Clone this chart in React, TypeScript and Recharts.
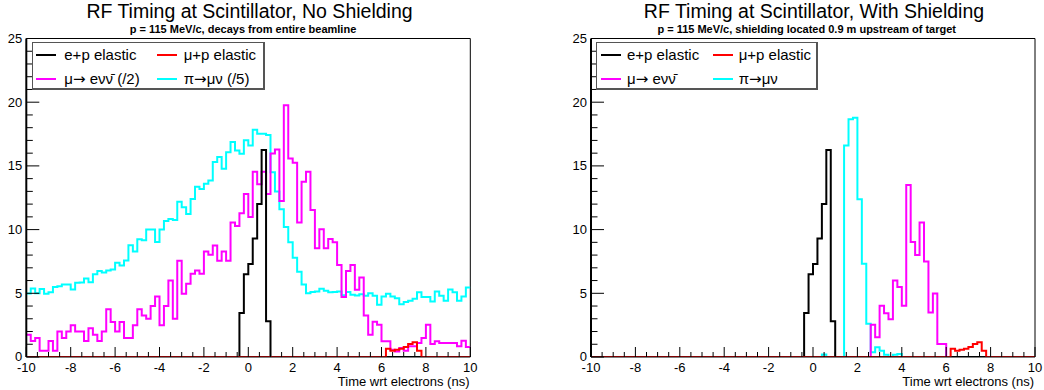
import { LineChart, Line, XAxis, YAxis, ReferenceLine, Legend } from 'recharts'

const FONT = '"Liberation Sans", Arial, Helvetica, sans-serif'
const ARROW_FONT = '"DejaVu Sans", sans-serif'

// binning: 100 bins of 0.2 ns between -10 and 10 ns
const X_MIN = -10
const X_MAX = 10
const BIN_WIDTH = 0.2
const BIN_COUNT = 100

const X_LABELS = [-10, -8, -6, -4, -2, 0, 2, 4, 6, 8, 10]
const X_MINOR_PER_MAJOR = 4
const Y_LABELS = [0, 5, 10, 15, 20, 25]
const Y_MINOR_PER_MAJOR = 5

// e+p elastic (same in both setups), bins 48..54
const EP_FIRST_BIN = 48
const EP_ELASTIC = [3.45, 6.5, 7.3, 9.3, 12.0, 16.25, 2.8]

// mu+p elastic (same in both setups), bins 81..88
const MUP_FIRST_BIN = 81
const MUP_ELASTIC = [0.65, 0.5, 0.57, 0.65, 0.78, 1.03, 1.15, 0.5]

// no shielding: decays from the entire beamline
const MU_DECAY_OPEN = [
  1.75, 1.25, 1.5, 0.5, 0.5, 1.25, 0.5, 2.0, 1.5, 2.0,
  2.5, 2.0, 2.0, 1.25, 2.25, 1.75, 1.25, 2.0, 3.75, 2.75,
  2.0, 2.75, 1.5, 1.5, 2.5, 3.75, 3.25, 3.0, 4.0, 4.75,
  2.5, 4.0, 6.0, 3.0, 7.55, 4.96, 5.74, 6.53, 6.79, 6.53,
  8.28, 8.02, 8.75, 7.55, 8.28, 7.55, 10.55, 10.29, 11.28, 12.79,
  10.99, 14.54, 13.55, 14.54, 12.79, 15.98, 16.29, 12.25, 19.77, 15.59,
  15.25, 10.55, 13.76, 14.54, 11.54, 8.54, 10.03, 8.54, 9.27, 9.0,
  7.23, 4.7, 6.76, 7.23, 5.27, 6.24, 3.26, 1.75, 2.77, 2.53,
  1.23, 1.23, 0.57, 0.44, 0.7, 0.5, 0.84, 0.84, 1.1, 1.49,
  2.53, 1.02, 1.23, 1.1, 1.1, 1.1, 1.1, 0.84, 1.28, 0.78,
]

const PI_DECAY_OPEN = [
  4.99, 5.38, 5.0, 5.33, 4.96, 5.09, 5.5, 5.56, 5.69, 5.69,
  5.3, 5.82, 5.85, 6.16, 5.87, 6.5, 6.76, 6.63, 6.79, 6.87,
  7.4, 7.18, 7.57, 8.77, 8.28, 9.24, 9.16, 10.0, 10.0, 9.03,
  10.0, 10.68, 10.84, 10.76, 12.19, 11.75, 11.23, 12.4, 13.37, 13.19,
  13.6, 13.86, 15.3, 15.69, 14.78, 16.08, 16.87, 16.21, 15.95, 17.02,
  16.6, 17.83, 17.52, 17.52, 17.42, 14.5, 13.0, 11.6, 10.2, 9.0,
  7.8, 6.7, 5.7, 5.0, 5.1, 5.14, 5.35, 5.2, 5.09, 5.1,
  5.14, 4.85, 5.1, 4.88, 4.83, 4.93, 4.8, 5.01, 4.8, 4.1,
  4.75, 4.96, 4.75, 4.62, 4.15, 4.31, 4.41, 4.57, 5.09, 4.7,
  4.7, 4.36, 5.14, 4.8, 4.41, 5.3, 5.09, 4.41, 4.75, 5.46,
]

// shielding 0.9 m upstream of target
const MU_DECAY_SHIELD_FIRST_BIN = 63
const MU_DECAY_SHIELD = [
  2.53, 1.56, 4.03, 3.43, 2.96, 6.0, 5.5, 4.03, 13.5, 9.03,
  8.0, 10.55, 7.5, 3.5, 4.98, 1.03, 1.03,
]

const PI_DECAY_SHIELD_FIRST_BIN = 52
const PI_DECAY_SHIELD = [
  0.2, 0, 0, 0, 0, 16.6, 18.67, 18.77, 12.38, 7.31,
  2.61, 0.37, 0.76, 0.5, 0.18, 0, 0.18, 0.23,
]

const LEGEND_OPEN = ['e+p elastic', 'μ+p elastic', 'μ→ eνν\u0304 (/2)', 'π→μν (/5)']
const LEGEND_SHIELD = ['e+p elastic', 'μ+p elastic', 'μ→ eνν\u0304', 'π→μν']
const SERIES_KEYS = ['ep', 'mup', 'mu', 'pi']
const SERIES_COLORS = ['#000000', '#ff0000', '#ff00ff', '#00ffff']

function fromSparse(first: number, values: number[]) {
  const out: number[] = new Array(BIN_COUNT).fill(0)
  values.forEach((v, k) => {
    out[first + k] = v
  })
  return out
}

// one point per bin low edge plus the upper edge, for stepAfter lines
function buildRows(ep: number[], mup: number[], mu: number[], pi: number[]) {
  const rows = []
  for (let i = 0; i <= BIN_COUNT; i++) {
    const b = Math.min(i, BIN_COUNT - 1)
    rows.push({
      x: Math.round((X_MIN + i * BIN_WIDTH) * 10) / 10,
      ep: ep[b],
      mup: mup[b],
      mu: mu[b],
      pi: pi[b],
    })
  }
  return rows
}

function subdivide(labels: number[], parts: number) {
  const out: number[] = []
  for (let i = 0; i < labels.length - 1; i++) {
    const step = (labels[i + 1] - labels[i]) / parts
    for (let k = 0; k < parts; k++) out.push(labels[i] + k * step)
  }
  out.push(labels[labels.length - 1])
  return out
}

const X_TICKS = subdivide(X_LABELS, X_MINOR_PER_MAJOR)
const Y_TICKS = subdivide(Y_LABELS, Y_MINOR_PER_MAJOR)

const epAll = fromSparse(EP_FIRST_BIN, EP_ELASTIC)
const mupAll = fromSparse(MUP_FIRST_BIN, MUP_ELASTIC)

const openRows = buildRows(epAll, mupAll, MU_DECAY_OPEN, PI_DECAY_OPEN)
const shieldRows = buildRows(
  epAll,
  mupAll,
  fromSparse(MU_DECAY_SHIELD_FIRST_BIN, MU_DECAY_SHIELD),
  fromSparse(PI_DECAY_SHIELD_FIRST_BIN, PI_DECAY_SHIELD),
)

function renderXTick(props: any) {
  const { x, y, payload } = props
  const v = payload.value
  const major = X_LABELS.includes(v)
  return (
    <g key={`xt-${v}`}>
      <line x1={x} x2={x} y1={y} y2={y - (major ? 10 : 5)} stroke="#000" strokeWidth={1} />
      {major && (
        <text x={x} y={y + 14.5} textAnchor="middle" fontSize={13} fontFamily={FONT} fill="#000">
          {v}
        </text>
      )}
    </g>
  )
}

function renderYTick(props: any) {
  const { x, y, payload } = props
  const v = payload.value
  const major = Y_LABELS.includes(v)
  return (
    <g key={`yt-${v}`}>
      <line x1={x} x2={x + (major ? 13 : 6.5)} y1={y} y2={y} stroke="#000" strokeWidth={1} />
      {major && (
        <text x={x - 4} y={y + 4.3} textAnchor="end" fontSize={13} fontFamily={FONT} fill="#000">
          {v}
        </text>
      )}
    </g>
  )
}

// arrows are drawn with a font whose arrow glyph is full width
function withArrows(label: string) {
  const parts = label.split('→')
  return parts.map((part, k) => (
    <span key={k}>
      {k > 0 && <span style={{ fontFamily: ARROW_FONT }}>→</span>}
      {part}
    </span>
  ))
}

interface LegendGeom {
  left: number
  width: number
  lineX: [number, number]
  textX: [number, number]
  lineLen: number
}

function LegendBox({ labels, geom }: { labels: string[]; geom: LegendGeom }) {
  return (
    <div
      style={{
        position: 'relative',
        width: geom.width,
        height: 48,
        boxSizing: 'border-box',
        background: '#fff',
        borderTop: '1px solid #555',
        borderLeft: '1px solid #555',
        borderRight: '2px solid #555',
        borderBottom: '2px solid #555',
        fontFamily: FONT,
        fontSize: 15,
        color: '#000',
      }}
    >
      {labels.map((label, i) => {
        const col = i % 2
        const row = Math.floor(i / 2)
        return (
          <div key={label}>
            <div
              style={{
                position: 'absolute',
                left: geom.lineX[col],
                top: row * 24 + 11,
                width: geom.lineLen,
                height: 2,
                background: SERIES_COLORS[i],
              }}
            />
            <div
              style={{
                position: 'absolute',
                left: geom.textX[col],
                top: row * 24,
                height: 24,
                lineHeight: '24px',
                whiteSpace: 'nowrap',
              }}
            >
              {withArrows(label)}
            </div>
          </div>
        )
      })}
    </div>
  )
}

interface PanelProps {
  left: number
  marginLeft: number
  marginRight: number
  title: string
  titleX: number
  subtitle: string
  subtitleX: number
  axisTitleX: number
  rows: any[]
  legend: string[]
  legendGeom: LegendGeom
}

function Panel(p: PanelProps) {
  return (
    <div style={{ position: 'absolute', left: p.left, top: 0, width: 522, height: 390 }}>
      <LineChart
        width={522}
        height={390}
        data={p.rows}
        margin={{ top: 38.5, right: p.marginRight, bottom: 0, left: p.marginLeft }}
      >
        <XAxis
          dataKey="x"
          type="number"
          domain={[X_MIN, X_MAX]}
          ticks={X_TICKS}
          interval={0}
          height={33}
          tickSize={0}
          tickMargin={0}
          tick={renderXTick}
          axisLine={{ stroke: '#000' }}
          allowDataOverflow
        />
        <YAxis
          type="number"
          domain={[0, 25]}
          ticks={Y_TICKS}
          interval={0}
          width={26}
          tickSize={0}
          tickMargin={0}
          tick={renderYTick}
          axisLine={{ stroke: '#000', strokeWidth: 2 }}
          allowDataOverflow
        />
        <ReferenceLine y={25} stroke="#000" strokeWidth={1} />
        <ReferenceLine x={10} stroke="#000" strokeWidth={1} />
        {[3, 2, 0, 1].map((i) => (
          <Line
            key={SERIES_KEYS[i]}
            dataKey={SERIES_KEYS[i]}
            type="stepAfter"
            stroke={SERIES_COLORS[i]}
            strokeWidth={2}
            dot={false}
            activeDot={false}
            isAnimationActive={false}
          />
        ))}
        <Legend
          layout="vertical"
          align="center"
          verticalAlign="middle"
          wrapperStyle={{ left: p.legendGeom.left, top: 41.7, width: p.legendGeom.width, height: 48 }}
          content={() => <LegendBox labels={p.legend} geom={p.legendGeom} />}
        />
      </LineChart>
      <svg
        width={522}
        height={390}
        style={{ position: 'absolute', left: 0, top: 0, pointerEvents: 'none' }}
      >
        <text x={p.titleX} y={17.5} textAnchor="middle" fontSize={19.5} fontFamily={FONT} fill="#000">
          {p.title}
        </text>
        <text
          x={p.subtitleX}
          y={32.5}
          textAnchor="middle"
          fontSize={11}
          fontWeight="bold"
          fontFamily={FONT}
          fill="#000"
        >
          {p.subtitle}
        </text>
        <text x={p.axisTitleX} y={386} textAnchor="end" fontSize={13} fontFamily={FONT} fill="#000">
          Time wrt electrons (ns)
        </text>
      </svg>
    </div>
  )
}

export default function App() {
  return (
    <div
      style={{
        position: 'absolute',
        left: 0,
        top: 0,
        width: 1044,
        height: 390,
        background: '#fff',
        overflow: 'hidden',
      }}
    >
      <Panel
        left={0}
        marginLeft={0.3}
        marginRight={51.7}
        title="RF Timing at Scintillator, No Shielding"
        titleX={249.5}
        subtitle="p = 115 MeV/c, decays from entire beamline"
        subtitleX={243}
        axisTitleX={469.5}
        rows={openRows}
        legend={LEGEND_OPEN}
        legendGeom={{ left: 31.7, width: 233.3, lineX: [3.3, 124.3], textX: [31.6, 151], lineLen: 20 }}
      />
      <Panel
        left={522}
        marginLeft={43}
        marginRight={9}
        title="RF Timing at Scintillator, With Shielding"
        titleX={292}
        subtitle="p = 115 MeV/c, shielding located 0.9 m upstream of target"
        subtitleX={284.7}
        axisTitleX={512}
        rows={shieldRows}
        legend={LEGEND_SHIELD}
        legendGeom={{ left: 74, width: 222.3, lineX: [4, 115.7], textX: [30, 141.7], lineLen: 20 }}
      />
    </div>
  )
}
